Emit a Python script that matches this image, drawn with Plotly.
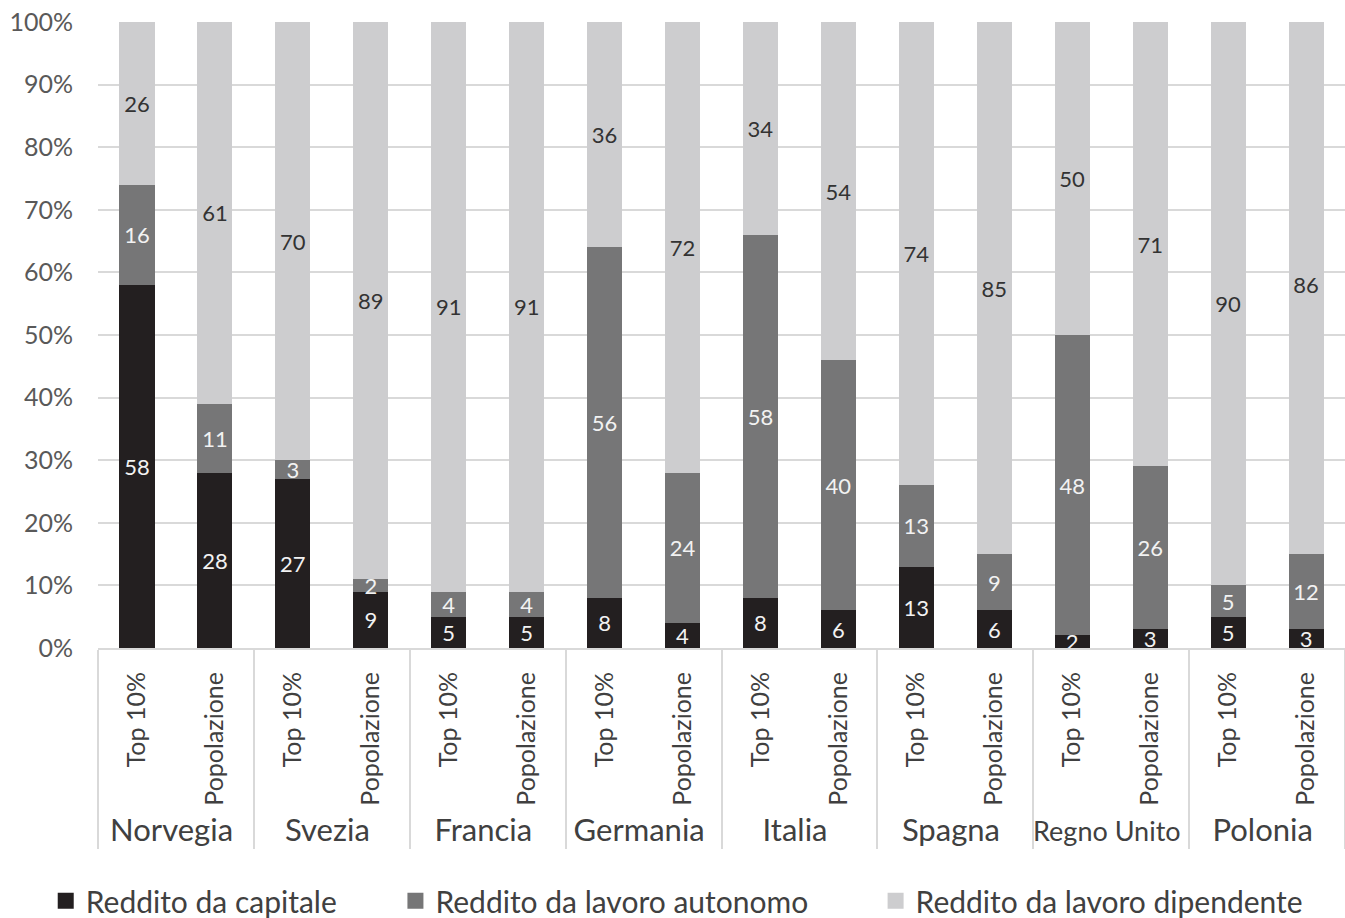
import plotly.graph_objects as go

countries = ["Norvegia", "Svezia", "Francia", "Germania", "Italia", "Spagna", "Regno Unito", "Polonia"]
groups = ["Top 10%", "Popolazione"]

# Income shares (%), two bars per country: Top 10% then Popolazione
capitale = [58, 28, 27, 9, 5, 5, 8, 4, 8, 6, 13, 6, 2, 3, 5, 3]
autonomo = [16, 11, 3, 2, 4, 4, 56, 24, 58, 40, 13, 9, 48, 26, 5, 12]
dipendente = [26, 61, 70, 89, 91, 91, 36, 72, 34, 54, 74, 85, 50, 71, 90, 86]

y_ticks = list(range(0, 101, 10))
y_ticktext = [f"{v}%" for v in y_ticks]

series_names = ["Reddito da capitale", "Reddito da lavoro autonomo", "Reddito da lavoro dipendente"]
fill_colors = ["#231f20", "#767677", "#cdcdcf"]
text_colors = ["#f2f2f2", "#f2f2f2", "#333333"]
legend_ids = ["legend", "legend2", "legend3"]
legend_x = [0.034, 0.294, 0.651]

FONT = "Lato"


def country_label(name):
    # the longer country name is set a little smaller so it fits its group
    size = 27 if len(name) > 9 else 31
    return f'<span style="font-size:{size}px">{name}</span>'


outer = [country_label(c) for c in countries for _ in groups]
inner = [g for _ in countries for g in groups]

fig = go.Figure()
for name, vals, fc, tc, lid in zip(series_names, [capitale, autonomo, dipendente],
                                   fill_colors, text_colors, legend_ids):
    fig.add_trace(go.Bar(
        x=[outer, inner],
        y=vals,
        name=name,
        marker=dict(color=fc, line=dict(width=0)),
        text=[str(v) for v in vals],
        textposition="inside",
        insidetextanchor="middle",
        textangle=0,
        constraintext="none",
        textfont=dict(family=FONT, size=22, color=tc),
        hoverinfo="skip",
        showlegend=False,
    ))
    # legend key: a larger square swatch for each series
    fig.add_trace(go.Scatter(
        x=[None], y=[None],
        mode="markers",
        name=name,
        marker=dict(symbol="square", size=20, color=fc),
        legend=lid,
        showlegend=True,
        hoverinfo="skip",
    ))

legend_style = dict(
    orientation="h",
    xref="container", yref="container",
    xanchor="left",
    y=0.047, yanchor="top",
    font=dict(family=FONT, size=30, color="#404040"),
    itemwidth=30,
    bgcolor="rgba(0,0,0,0)",
)

fig.update_layout(
    barmode="stack",
    bargap=0.55,
    width=1345,
    height=918,
    margin=dict(l=98, r=0, t=22, b=270, autoexpand=False),
    paper_bgcolor="white",
    plot_bgcolor="white",
    font=dict(family=FONT, color="#595959"),
    showlegend=True,
    legend=dict(legend_style, x=legend_x[0]),
    legend2=dict(legend_style, x=legend_x[1]),
    legend3=dict(legend_style, x=legend_x[2]),
)

fig.update_yaxes(
    range=[0, 100],
    tickvals=y_ticks,
    ticktext=y_ticktext,
    tickfont=dict(family=FONT, size=25, color="#595959"),
    ticklabelstandoff=24,
    showgrid=True,
    gridcolor="#d9d9d9",
    gridwidth=2,
    zeroline=False,
    showline=False,
    ticks="",
)

fig.update_xaxes(
    type="multicategory",
    tickangle=-90,
    tickfont=dict(family=FONT, size=25, color="#404040"),
    ticklabelstandoff=12,
    showline=True,
    linecolor="#d9d9d9",
    linewidth=2,
    showdividers=True,
    dividercolor="#d9d9d9",
    dividerwidth=2,
    ticks="",
    showgrid=False,
)

fig.write_html("out.html")
